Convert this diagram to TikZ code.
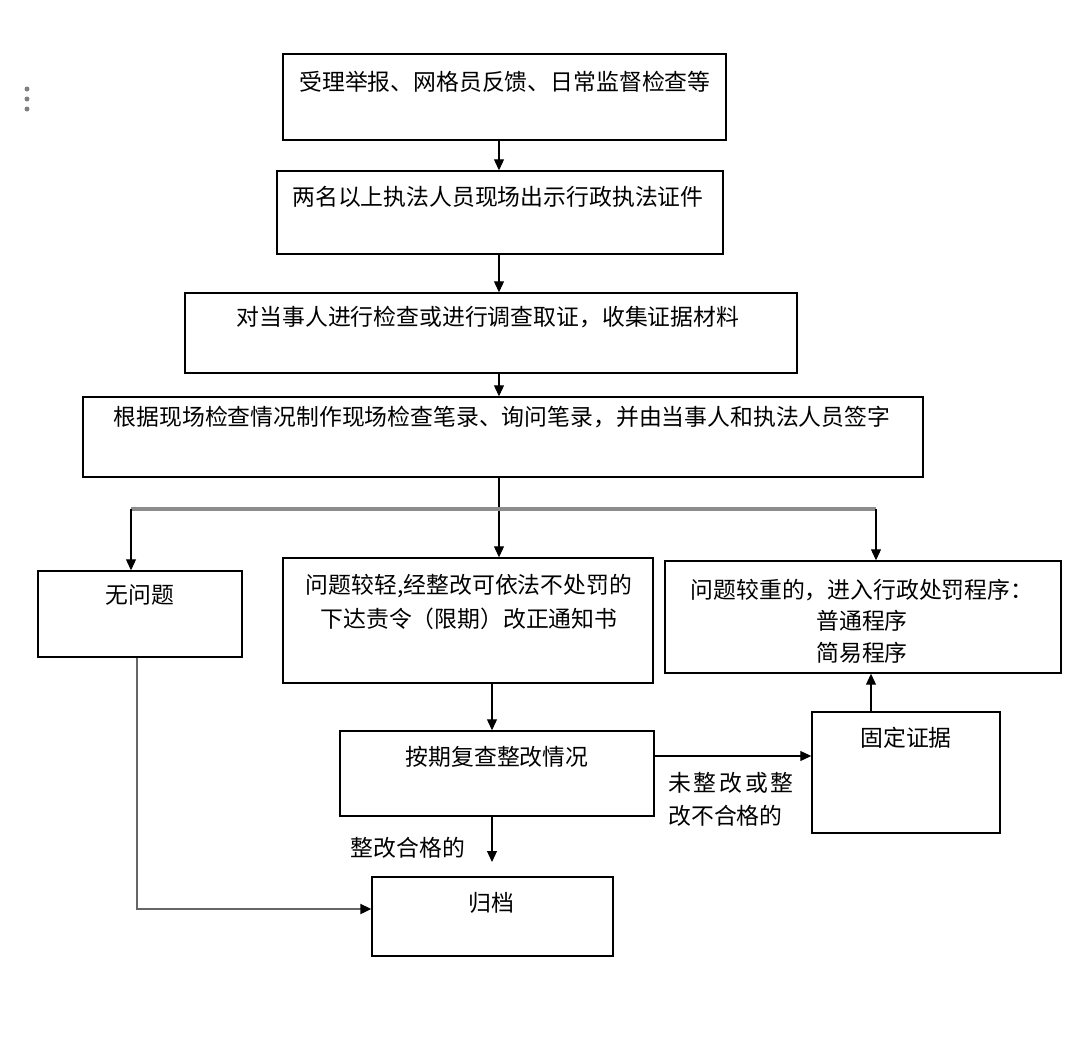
\documentclass[tikz,border=0pt]{standalone}
\usepackage{fontspec}
\newfontfamily\cjk{Noto Sans CJK SC}
\usetikzlibrary{arrows.meta,fit,positioning}

\begin{document}
\begin{tikzpicture}[
    x=0.02cm,
    y=-0.02cm,
    box/.style={draw, line width=0.8pt, inner sep=0pt},
    txt/.style={font=\cjk\fontsize{13pt}{19pt}\selectfont, inner sep=0pt, align=center},
    flow/.style={-{Triangle[length=0.22cm, width=0.2cm, color=black]}, line width=0.6pt},
    feed/.style={line width=2pt, black!45},
    back/.style={line width=1.2pt, black!60}
]

    \useasboundingbox (0,0) rectangle (1080,1049);

    % Menu dots
    \foreach \y in {89,99,109}
        \fill[black!50] (27,\y) circle (0.05cm);

    % Guide coordinates for the connectors
    \coordinate (spine) at (499,0);
    \coordinate (sub) at (492,0);
    \coordinate (up) at (871,0);
    \coordinate (fork) at (0,509);
    \coordinate (leftdrop) at (131,0);
    \coordinate (rightdrop) at (876,0);
    \coordinate (fail) at (0,756);
    \coordinate (passend) at (492,862);
    \coordinate (back) at (137,909);

    % Main chain
    \node[box, fit={(283,54) (726,140)}] (report) {};
    \node[txt] (reportT) at (505,82) {受理举报、网格员反馈、日常监督检查等};

    \node[box, fit={(277,171) (723,254)}] (showid) {};
    \node[txt] (showidT) at (498,197) {两名以上执法人员现场出示行政执法证件};

    \node[box, fit={(185,293) (797,373)}] (inspect) {};
    \node[txt] (inspectT) at (488,317) {对当事人进行检查或进行调查取证，收集证据材料};

    \node[box, fit={(83,397) (923,477)}] (record) {};
    \node[txt] (recordT) at (502,417) {根据现场检查情况制作现场检查笔录、询问笔录，并由当事人和执法人员签字};

    % Three outcomes
    \node[box, fit={(38,571) (242,657)}] (noissue) {};
    \node[txt] (noissueT) at (140,595) {无问题};

    \node[box, fit={(283,558) (653,683)}] (minor) {};
    \node[txt, font=\cjk\fontsize{13pt}{19.8pt}\selectfont] (minorT) at (469,602) {问题较轻,经整改可依法不处罚的\\下达责令（限期）改正通知书};

    \node[box, fit={(665,561) (1061,673)}] (serious) {};
    \node[txt, font=\cjk\fontsize{13pt}{18pt}\selectfont] (seriousT) at (862,621) {问题较重的，进入行政处罚程序：\\普通程序\\简易程序};

    % Follow-up
    \node[box, fit={(340,731) (654,816)}] (recheck) {};
    \node[txt] (recheckT) at (497,757) {按期复查整改情况};

    \node[box, fit={(812,712) (1000,833)}] (evidence) {};
    \node[txt] (evidenceT) at (906,738) {固定证据};

    \node[box, fit={(372,877) (613,956)}] (archive) {};
    \node[txt] (archiveT) at (491,903) {归档};

    % Labels on the connectors
    \node[txt, align=left, anchor=north west, font=\cjk\fontsize{13pt}{18.5pt}\selectfont] (failT) at (668,772)
        {{\addfontfeature{LetterSpace=12}未整改或整}\\改不合格的};
    \node[txt] (passT) at (408,848) {整改合格的};

    % Connectors
    \draw[flow] (report.south -| spine) -- (showid.north -| spine);
    \draw[flow] (showid.south -| spine) -- (inspect.north -| spine);
    \draw[flow] (inspect.south -| spine) -- (record.north -| spine);
    \draw[flow] (record.south -| spine) -- (minor.north -| spine);

    \draw[feed] (fork -| leftdrop) -- (fork -| rightdrop);
    \draw[flow] (fork -| leftdrop) -- (noissue.north -| leftdrop);
    \draw[flow] (fork -| rightdrop) -- (serious.north -| rightdrop);

    \draw[flow] (minor.south -| sub) -- (recheck.north -| sub);
    \draw[flow] (recheck.east |- fail) -- (evidence.west |- fail);
    \draw[flow] (evidence.north -| up) -- (serious.south -| up);
    \draw[flow] (recheck.south -| sub) -- (passend);

    \draw[back, flow, line width=1.2pt] (noissue.south -| back) -- (back) -- (archive.west |- back);

\end{tikzpicture}
\end{document}
